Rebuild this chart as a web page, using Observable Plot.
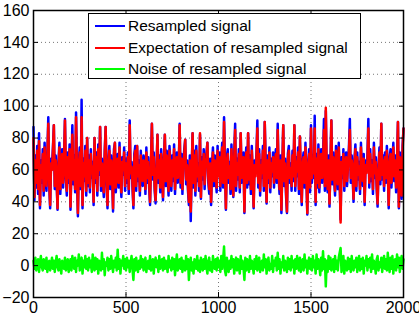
<!DOCTYPE html>
<html>
<head>
<meta charset="utf-8">
<script src="https://cdn.jsdelivr.net/npm/d3@7"></script>
<script src="https://cdn.jsdelivr.net/npm/@observablehq/plot@0.6"></script>
<style>
  html, body { margin: 0; padding: 0; background: white; }
  #wrap { position: relative; width: 419px; height: 320px; font-family: "Liberation Sans", Arial, Helvetica, sans-serif; }
  #legend { position: absolute; left: 88px; top: 13px; width: 273px; height: 66px; background: white; border: 1px solid black; box-sizing: border-box; }
  .row { position: absolute; left: 0; height: 20px; display: flex; align-items: center; font-size: 15.5px; color: black; white-space: nowrap; }
  .sw { display: inline-block; width: 30px; height: 2px; margin-left: 6px; margin-right: 3px; }
</style>
</head>
<body>
<div id="wrap"></div>
<script>
// sample index positions (every 5th sample of 0..2000)
const sampleIndex = d3.range(0, 2001, 5);
const xTicks = [0, 500, 1000, 1500, 2000];
const yTicks = [-20, 0, 20, 40, 60, 80, 100, 120, 140, 160];
const seriesNames = ["Resampled signal", "Expectation of resampled signal", "Noise of resampled signal"];
const seriesColors = ["#0000ff", "#ff0000", "#00ff00"];

const resampled = [
  87,41,69,49,75,45,83,36,66,52,73,44,77,56,47,71,93,50,36,67,
  63,74,88,48,69,52,35,65,77,45,61,73,49,67,92,55,44,71,52,76,
  35,63,88,51,69,46,96,56,31,65,74,48,104,36,67,53,75,44,80,50,
  69,46,73,55,65,38,80,52,71,44,76,57,87,47,67,53,43,72,87,51,
  36,66,75,48,69,55,34,73,77,46,64,70,49,77,54,43,68,57,74,47,
  67,52,71,45,91,55,65,49,36,70,75,47,75,53,66,44,72,55,50,69,
  63,45,74,52,68,49,38,66,89,54,71,47,39,61,82,52,69,46,73,57,
  41,67,82,50,72,55,44,75,64,47,69,53,76,45,65,71,52,62,89,49,
  70,45,65,73,79,51,66,47,38,69,28,61,83,49,72,44,75,53,64,47,
  82,42,68,54,73,48,65,71,77,52,45,67,38,63,74,50,69,55,46,75,
  59,71,47,66,77,49,93,63,35,68,73,52,65,45,76,55,43,70,89,47,
  67,54,73,46,83,52,65,71,33,63,74,49,83,51,69,45,75,55,36,66,
  59,70,91,49,73,44,66,55,75,47,90,64,39,69,52,74,46,67,56,71,
  49,65,73,52,89,55,45,69,33,63,88,50,67,44,33,70,75,52,64,47,
  72,53,88,47,68,56,74,45,81,54,38,66,71,49,77,55,32,65,73,46,
  88,52,69,55,94,38,70,49,76,46,65,73,52,67,92,47,97,55,46,69,
  37,64,91,51,71,54,44,75,63,48,77,53,29,68,55,73,47,66,71,50,
  65,74,92,52,69,56,40,67,76,47,71,54,65,45,77,57,50,70,38,66,
  61,69,92,49,73,53,66,45,77,55,68,48,37,63,74,51,89,54,69,47,
  71,52,75,63,36,67,73,49,64,77,53,69,46,66,90,36,71,55,42,75,
  86
];

const expectation = [
  80,43,66,52,72,48,78,38,63,55,70,47,74,58,50,68,89,52,38,64,
  60,72,88,50,66,55,36,62,74,48,58,70,52,64,91,57,47,68,55,73,
  37,60,82,54,66,48,93,58,33,62,71,50,93,38,64,56,72,47,80,52,
  66,49,70,58,62,40,80,55,68,47,73,60,87,50,64,56,46,69,87,54,
  38,63,72,51,66,58,36,70,77,49,61,67,52,74,57,46,65,60,71,50,
  64,55,68,48,88,58,62,52,38,67,72,50,75,56,63,47,69,58,53,66,
  60,48,71,55,65,52,40,63,89,57,68,50,41,58,82,55,66,49,70,60,
  43,64,82,53,69,58,47,72,61,50,66,56,73,48,62,68,55,59,88,52,
  67,48,62,70,79,54,63,50,40,66,34,58,83,52,69,47,72,56,61,50,
  83,43,65,57,70,51,62,68,77,55,48,64,40,60,71,53,66,58,49,72,
  56,68,50,63,74,52,90,60,36,65,70,55,62,48,73,58,44,67,85,50,
  64,57,70,49,83,55,62,68,34,60,71,52,83,54,66,48,72,58,37,63,
  56,67,86,52,70,47,63,58,72,50,90,61,40,66,55,71,49,64,59,68,
  52,62,70,55,85,58,48,66,35,60,88,53,64,47,34,67,72,55,61,50,
  69,56,88,50,65,59,71,48,81,57,40,63,68,52,74,58,33,62,70,49,
  86,55,66,58,86,40,67,52,73,49,62,70,55,64,85,50,99,58,48,66,
  39,61,91,54,68,57,47,72,60,51,74,56,27,65,58,70,50,63,68,53,
  62,71,85,55,66,59,42,64,73,50,68,57,62,48,74,60,53,67,40,63,
  58,66,86,52,70,56,63,48,74,58,65,51,39,60,71,54,89,57,66,50,
  68,55,72,60,38,64,70,52,61,74,56,66,49,63,90,37,68,58,44,72,
  86
];

const noise = [
  3,-2,5,-3,1,4,-4,2,6,-1,-3,4,0,-2,5,-4,2,3,-3,1,
  5,-2,3,-4,2,6,-1,-3,4,0,-5,3,1,-2,5,-3,2,4,-4,0,
  4,-3,6,1,-2,5,-4,3,0,7,-3,2,5,-5,3,-1,6,-2,4,-3,
  5,-1,3,-4,7,0,-3,5,-2,4,-5,3,1,-3,8,-2,4,-6,2,0,
  5,-3,4,-2,6,1,-4,3,-1,5,-3,10,-2,4,-5,3,0,6,-2,4,
  -3,5,-1,3,-4,2,6,-2,-9,4,-3,5,0,-4,3,-2,6,-1,4,-3,
  2,5,-4,1,3,-2,6,-3,0,4,-5,2,5,-1,3,-4,6,-2,1,4,
  -3,5,-2,3,0,-4,6,-1,3,-3,5,-2,4,-6,2,7,-3,1,4,-2,
  5,-4,3,0,-3,6,-2,4,-9,1,5,-3,2,-5,4,0,-2,6,-3,3,
  -4,5,1,-3,4,-2,6,-1,-5,3,5,-3,2,-4,6,0,-2,4,-3,5,
  -1,3,-4,6,-2,4,12,-3,-6,5,0,-4,3,-2,6,-1,4,-5,2,5,
  -3,4,0,-5,6,-2,3,-1,-9,5,-3,4,1,-4,6,-2,3,0,-5,4,
  -2,6,-3,2,5,-4,0,3,-3,7,-1,4,-5,2,5,-3,1,-2,6,-4,
  3,0,5,-3,8,-2,4,-5,2,-1,6,-3,3,0,-4,5,-2,4,-3,6,
  -1,3,-5,4,-2,6,0,-3,5,-4,2,4,-3,7,-1,3,-5,2,5,-2,
  4,-3,6,-1,3,-5,7,-2,4,0,-6,5,-3,9,-2,4,-13,3,-4,6,
  -2,5,-3,1,4,-4,6,-2,3,-3,5,8,11,-4,2,6,-5,3,0,-3,
  5,-2,4,-4,6,0,-3,3,-1,5,-4,2,6,-3,4,-2,5,-5,3,0,
  6,-3,4,-1,5,-4,7,-2,3,0,-5,4,6,-3,2,-1,5,-4,3,6,
  -2,4,-3,8,0,-4,5,-2,6,-5,3,4,-3,7,-1,5,-4,3,6,-2,
  4
];

const seriesValues = [resampled, expectation, noise];
const tables = seriesValues.map((vals, s) => vals.map((v, i) => ({x: sampleIndex[i], y: v, series: seriesNames[s]})));

const chart = Plot.plot({
  width: 419,
  height: 320,
  marginLeft: 33,
  marginRight: 16,
  marginTop: 10,
  marginBottom: 23,
  style: {fontFamily: "'Liberation Sans', Arial, Helvetica, sans-serif", fontSize: "16px", color: "black", background: "white"},
  x: {domain: [0, 2000], ticks: xTicks, label: null},
  y: {domain: [-20, 160], ticks: yTicks, label: null},
  marks: [
    Plot.gridX(xTicks, {stroke: "#777", strokeOpacity: 1, strokeDasharray: "1,3"}),
    Plot.gridY(yTicks, {stroke: "#777", strokeOpacity: 1, strokeDasharray: "1,3"}),
    ...tables.map((t, s) => Plot.line(t, {x: "x", y: "y", stroke: seriesColors[s], strokeWidth: 2.5})),
    Plot.frame({stroke: "black", strokeWidth: 1.5}),
    Plot.axisX(xTicks, {anchor: "bottom", tickSize: -5, tickPadding: 9, fontSize: 16, label: null, tickFormat: d3.format("d")}),
    Plot.axisX(xTicks, {anchor: "top", tickSize: -5, tickFormat: () => "", label: null}),
    Plot.axisY(yTicks, {anchor: "left", tickSize: -5, tickPadding: 9, fontSize: 16, label: null}),
    Plot.axisY(yTicks, {anchor: "right", tickSize: -5, tickFormat: () => "", label: null})
  ]
});

const wrap = document.getElementById("wrap");
wrap.appendChild(chart);

const legend = document.createElement("div");
legend.id = "legend";
seriesNames.forEach((name, s) => {
  const row = document.createElement("div");
  row.className = "row";
  row.style.top = (2 + s * 21.5) + "px";
  const sw = document.createElement("span");
  sw.className = "sw";
  sw.style.background = seriesColors[s];
  const label = document.createElement("span");
  label.textContent = name;
  row.appendChild(sw);
  row.appendChild(label);
  legend.appendChild(row);
});
wrap.appendChild(legend);
</script>
</body>
</html>
